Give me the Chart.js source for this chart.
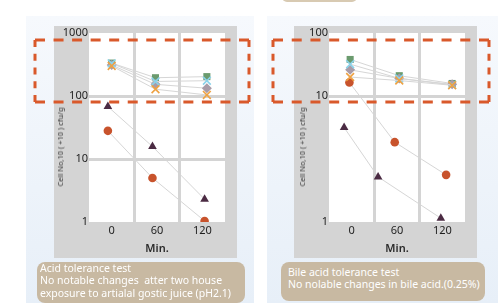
<!DOCTYPE html>
<html>
<head>
<meta charset="utf-8">
<script src="https://cdn.jsdelivr.net/npm/chart.js@4.4.1/dist/chart.umd.min.js"></script>
<style>
  body { margin: 0; width: 501px; height: 303px; overflow: hidden; background: #fff; position: relative; font-family: "Noto Sans", sans-serif; }
  .panel { position: absolute; top: 16px; width: 228px; height: 287px; background: linear-gradient(#f6f9fd, #e7eff8); }
  .chart { position: absolute; top: 16px; }
  .ytitle { position: absolute; font-size: 7.5px; color: #333; white-space: nowrap; transform: translate(-50%, -50%) rotate(-90deg); }
  .note { position: absolute; background: #c8b9a2; color: #fff; border-radius: 8px; font-size: 10.5px; line-height: 12.3px; box-sizing: border-box; }
  .tab { position: absolute; left: 282px; top: -14px; width: 75px; height: 16px; border-radius: 5px; background: #d8cab2; }
</style>
</head>
<body>

<div class="tab"></div>
<div class="panel" style="left:26px"></div>
<div class="panel" style="left:267px; width:231px"></div>

<canvas id="acidChart" class="chart" style="left:26px" width="228" height="250"></canvas>
<canvas id="bileChart" class="chart" style="left:267px" width="228" height="250"></canvas>

<div class="ytitle" style="left:60px; top:147px">Cell No,10 ( +10 ) cfu/g</div>
<div class="ytitle" style="left:302px; top:147px">Cell No,10 ( +10 ) cfu/g</div>

<div class="note" style="left:37px; top:262px; width:208px; height:41px; padding:0 0 0 3px">
  Acid tolerance test<br>No notable changes&nbsp; atter two house<br>exposure to artialal gostic juice (pH2.1)
</div>
<div class="note" style="left:281px; top:262px; width:204px; height:39px; padding:4px 0 0 7px">
  Bile acid tolerance test<br>No nolable changes in bile acid.(0.25%)
</div>

<script>
// Minutes on the x axis
var minutes = [0, 60, 120];

// Acid test: where the marks sit in time (as drawn)
var acidTopX = [0, 58, 126];
var acidLowX = [-5, 54, 123];

// Acid test values
var acidSquare = [333, 195, 203];
var acidBlueX = [330, 170, 175];
var acidDiamond = [310, 153, 133];
var acidOrangeX = [300, 128, 104];
var acidTriangle = [68, 15.8, 2.3];
var acidCircle = [28, 5, 1.04];

// Acid y ticks
var acidTicks = [1, 10, 100, 1000];
var acidTickLabels = ['1', '10', '100', '1000'];

// Bile test: where the marks sit in time (as drawn)
var bileTopX = [-2, 63, 133];
var bileCircleX = [-3, 57, 125];
var bileTriangleX = [-10, 35, 118];

// Bile test values
var bileSquare = [38, 21, 15.8];
var bileBlueX = [32, 19, 15];
var bileDiamond = [26, 19, 15.3];
var bileOrangeX = [20, 17.6, 14.8];
var bileCircle = [16.4, 1.85, 0.56];
var bileTriangle = [3.16, 0.52, 0.115];

// Bile y ticks
var bileTicks = [0.1, 10, 100];
var bileTickLabels = ['1', '10', '100'];

var GRID = '#d4d4d4';

// One series
var series = (xs, ys, style, color, radius) => {
    return {
        data: xs.map((x, i) => ({ x: x, y: ys[i] })),
        pointStyle: style,
        pointRadius: radius,
        pointBackgroundColor: color,
        pointBorderColor: color,
        pointBorderWidth: style == 'crossRot' ? 1.6 : 0,
        borderColor: '#d6d6d6',
        borderWidth: 1,
        fill: false,
        lineTension: 0
    };
};

// Dashed line with a dash at each end
var dashLine = (ctx, x1, y1, x2, y2, dash, count) => {
    var len = Math.hypot(x2 - x1, y2 - y1);
    var gap = (len - dash * count) / (count - 1);
    ctx.setLineDash([dash, gap]);
    ctx.beginPath();
    ctx.moveTo(x1, y1);
    ctx.lineTo(x2, y2);
    ctx.stroke();
};

// Gray frame, white plot area and the orange dashed box
var framePlugin = {
    id: 'frame',
    beforeDraw(chart) {
        var a = chart.chartArea, ctx = chart.ctx;
        var left = chart.scales.y.left;
        ctx.save();
        ctx.fillStyle = GRID;
        ctx.fillRect(left, a.top - 7, a.right + 12 - left, chart.scales.x.bottom - a.top + 7);
        ctx.fillStyle = '#fff';
        ctx.fillRect(a.left, a.top, a.right - a.left, a.bottom - a.top);
        ctx.restore();
    },
    afterDraw(chart) {
        var b = chart.options.plugins.frame.box, ctx = chart.ctx;
        ctx.save();
        ctx.strokeStyle = '#d9592b';
        ctx.lineWidth = 3;
        dashLine(ctx, b[0], b[1], b[2], b[1], 10, 12);
        dashLine(ctx, b[0], b[3], b[2], b[3], 10, 12);
        dashLine(ctx, b[0], b[1], b[0], b[3], 7, 5);
        dashLine(ctx, b[2], b[1], b[2], b[3], 7, 5);
        ctx.restore();
    }
};

// Build one chart
var makeChart = (id, sets, ticks, tickLabels, gridAt, min, max, box, padLeft) => {
    var ctx = document.getElementById(id).getContext('2d');
    return new Chart(ctx, {
        type: 'line',
        data: { datasets: sets },
        plugins: [framePlugin],
        options: {
            responsive: false,
            animation: false,
            layout: { padding: { left: padLeft, right: 57 - padLeft, top: 17, bottom: 8 } },
            plugins: {
                legend: { display: false },
                tooltip: { enabled: false },
                frame: { box: box }
            },
            scales: {
                x: {
                    type: 'linear',
                    min: -30,
                    max: 150,
                    afterFit: (s) => { s.height = 36; },
                    afterBuildTicks: (s) => { s.ticks = [0, 30, 60, 90, 120].map(v => ({ value: v })); },
                    border: { display: false },
                    grid: {
                        drawTicks: false,
                        lineWidth: 3,
                        color: (c) => (c.tick && c.tick.value % 60 == 30) ? GRID : 'rgba(0,0,0,0)'
                    },
                    ticks: {
                        padding: 2,
                        color: '#1e1e1e',
                        font: { family: 'Noto Sans', size: 11 },
                        callback: (v) => minutes.indexOf(v) >= 0 ? String(v) : ''
                    },
                    title: {
                        display: true,
                        text: 'Min.',
                        color: '#2a2a2a',
                        padding: { top: 0, bottom: 3 },
                        font: { family: 'Noto Sans', size: 11, weight: '600' }
                    }
                },
                y: {
                    type: 'logarithmic',
                    min: min,
                    max: max,
                    afterFit: (s) => { s.width = 35; },
                    afterBuildTicks: (s) => { s.ticks = ticks.map(v => ({ value: v })); },
                    border: { display: false },
                    grid: {
                        drawTicks: false,
                        lineWidth: 3,
                        color: (c) => (c.tick && gridAt.indexOf(c.tick.value) >= 0) ? GRID : 'rgba(0,0,0,0)'
                    },
                    ticks: {
                        padding: 1,
                        color: '#1e1e1e',
                        font: { family: 'Noto Sans', size: 11 },
                        callback: (v) => tickLabels[ticks.indexOf(v)]
                    }
                }
            }
        }
    });
};

// Acid chart
makeChart('acidChart', [
    series(acidTopX, acidOrangeX, 'crossRot', '#eea243', 5.5),
    series(acidTopX, acidBlueX, 'crossRot', '#8ad2ea', 5.5),
    series(acidTopX, acidDiamond, 'rectRot', '#a99ca8', 5),
    series(acidTopX, acidSquare, 'rect', '#6b9b6e', 5),
    series(acidLowX, acidCircle, 'circle', '#c8532c', 4.3),
    series(acidLowX, acidTriangle, 'triangle', '#4b2b43', 5)
], acidTicks, acidTickLabels, [10, 100], 1, 1000, [9, 24, 223, 86], 28);

// Bile chart
makeChart('bileChart', [
    series(bileTopX, bileOrangeX, 'crossRot', '#eea243', 5.5),
    series(bileTopX, bileBlueX, 'crossRot', '#8ad2ea', 5.5),
    series(bileTopX, bileDiamond, 'rectRot', '#a99ca8', 5),
    series(bileTopX, bileSquare, 'rect', '#6b9b6e', 5),
    series(bileCircleX, bileCircle, 'circle', '#c8532c', 4.3),
    series(bileTriangleX, bileTriangle, 'triangle', '#4b2b43', 5)
], bileTicks, bileTickLabels, [10], 0.1, 100, [6, 24, 222, 86], 27);
</script>
</body>
</html>
